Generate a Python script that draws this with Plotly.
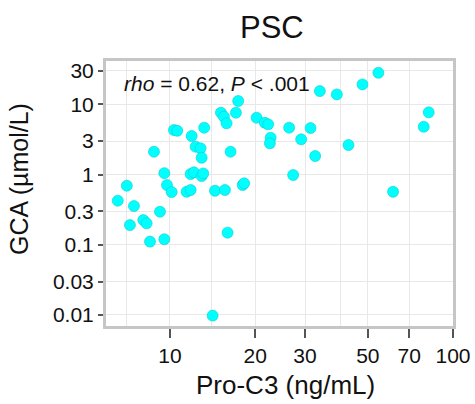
import plotly.graph_objects as go

pro_c3 = [6.54, 7.04, 7.22, 7.46, 8.05, 8.27, 8.50, 8.78, 9.22, 9.55,
          9.55, 9.76, 10.14, 10.33, 10.61, 11.45, 11.83, 11.83, 12.15, 11.93,
          12.32, 12.83, 12.94, 12.94, 13.11, 13.21, 14.15, 14.42, 15.64, 15.14,
          15.51, 15.85, 15.98, 16.37, 17.10, 17.42, 18.06, 18.29, 20.23, 21.64,
          22.23, 22.68, 22.54, 26.37, 27.24, 29.08, 31.38, 32.58, 33.85, 38.86,
          42.73, 47.88, 54.5, 61.41, 78.81, 82.07]
gca = [0.425, 0.695, 0.191, 0.357, 0.225, 0.202, 0.111, 2.12, 0.296, 0.120,
       1.05, 0.711, 0.565, 4.32, 4.22, 0.570, 0.604, 1.02, 1.08, 3.55,
       2.50, 2.37, 1.74, 0.955, 1.04, 4.66, 0.0098, 0.589, 0.604, 7.62,
       6.68, 5.38, 0.149, 2.12, 7.62, 11.2, 0.711, 0.752, 6.47, 5.48,
       5.21, 3.36, 2.79, 4.66, 0.987, 3.18, 4.61, 1.84, 15.5, 13.9,
       2.64, 19.3, 28.3, 0.570, 4.81, 7.71]

x_ticks = [10, 20, 30, 50, 70, 100]
x_ticktext = ["10", "20", "30", "50", "70", "100"]
x_minor_grid = [7, 14, 40]
y_ticks = [0.01, 0.03, 0.1, 0.3, 1, 3, 10, 30]
y_ticktext = ["0.01", "0.03", "0.1", "0.3", "1", "3", "10", "30"]

FONT = "Liberation Sans, Arial, sans-serif"
W, H = 475, 404
L, R, T, B = 106, 22, 61, 78

fig = go.Figure()
fig.add_trace(go.Scatter(
    x=pro_c3, y=gca, mode="markers",
    marker=dict(color="#00FFFF", size=11, line=dict(color="#00d0d0", width=0.6)),
    showlegend=False,
))

fig.update_layout(
    width=W, height=H,
    margin=dict(l=L, r=R, t=T, b=B, autoexpand=False),
    paper_bgcolor="white", plot_bgcolor="white",
    font=dict(family=FONT, color="#111", size=21),
    xaxis=dict(
        type="log", range=[0.774, 2.0], automargin=False,
        tickvals=x_ticks, ticktext=x_ticktext,
        ticks="outside", ticklen=9, tickwidth=2, tickcolor="#555",
        showgrid=True, gridcolor="#e8e8e8", gridwidth=1,
        minor=dict(tickvals=x_minor_grid, showgrid=True, gridcolor="#e8e8e8", ticks=""),
        showline=True, linecolor="#c6c6c6", linewidth=3, mirror=True,
        zeroline=False, tickfont=dict(size=21, family=FONT, color="#111"),
    ),
    yaxis=dict(
        type="log", range=[-2.157, 1.619], automargin=False,
        tickvals=y_ticks, ticktext=y_ticktext,
        ticks="outside", ticklen=5, tickwidth=2, tickcolor="#555",
        showgrid=True, gridcolor="#e8e8e8", gridwidth=1,
        showline=True, linecolor="#c6c6c6", linewidth=3, mirror=True,
        zeroline=False, tickfont=dict(size=21, family=FONT, color="#111"),
    ),
    annotations=[
        dict(text="PSC", x=272 / W, y=1 - 27 / H, xref="paper", yref="paper",
             xanchor="center", yanchor="middle", showarrow=False,
             font=dict(size=31, family=FONT, color="#111")),
        dict(text="Pro-C3 (ng/mL)", x=285 / W, y=1 - 385 / H, xref="paper", yref="paper",
             xanchor="center", yanchor="middle", showarrow=False,
             font=dict(size=26, family=FONT, color="#111")),
        dict(text="GCA (µmol/L)", x=19 / W, y=1 - 179 / H, xref="paper", yref="paper",
             xanchor="center", yanchor="middle", textangle=-90, showarrow=False,
             font=dict(size=25, family=FONT, color="#111")),
        dict(text="<i>rho</i> = 0.62, <i>P</i> &lt; .001", x=122 / W, y=1 - 83 / H,
             xref="paper", yref="paper", xanchor="left", yanchor="middle",
             showarrow=False, font=dict(size=21, family=FONT, color="#111")),
    ],
)
# convert figure-pixel positions to paper coordinates relative to the plot area
for a in fig.layout.annotations:
    px = a.x * W
    py = (1 - a.y) * H
    a.x = (px - L) / (W - L - R)
    a.y = 1 - (py - T) / (H - T - B)

fig.write_html("out.html")
